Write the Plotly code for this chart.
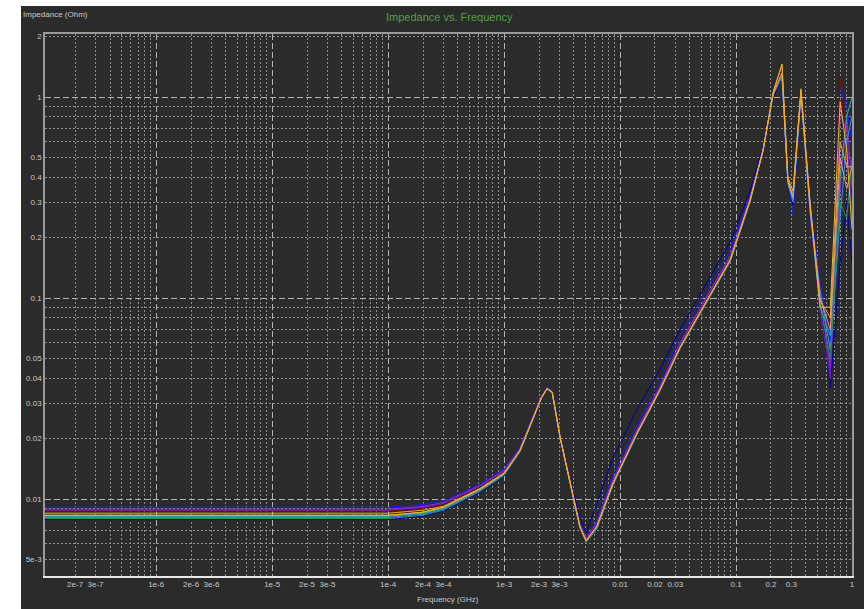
import math
import plotly.graph_objects as go

# ---------------- data ----------------
freq_ghz = [1.1e-7, 1e-5, 1e-4, 2e-4, 3e-4, 6.2e-4, 1e-3, 1.37e-3, 1.78e-3, 2.1e-3,
            2.35e-3, 2.6e-3, 3.04e-3, 3.7e-3, 4.5e-3, 5.1e-3, 6.3e-3, 8.7e-3, 0.014, 0.022,
            0.033, 0.089, 0.132, 0.171, 0.209, 0.249, 0.28, 0.31, 0.363, 0.435,
            0.53, 0.65, 0.79, 0.9, 1.0]

z_blue = [0.0091, 0.0091, 0.0091, 0.0094, 0.0098, 0.0119, 0.0141, 0.0181, 0.0262, 0.0326,
          0.0360, 0.0345, 0.0206, 0.0123, 0.0076, 0.0064, 0.0078, 0.0132, 0.0235, 0.0385,
          0.065, 0.172, 0.325, 0.56, 1.00, 1.30, 0.40, 0.26, 1.00, 0.30,
          0.12, 0.06, 1.15, 0.90, 0.60]
z_navy = [0.0079, 0.0079, 0.0079, 0.0082, 0.0087, 0.0108, 0.0130, 0.0171, 0.0252, 0.0317,
          0.0352, 0.0338, 0.0202, 0.0125, 0.0082, 0.0068, 0.0095, 0.0160, 0.0280, 0.0440,
          0.070, 0.190, 0.340, 0.57, 1.00, 1.25, 0.36, 0.29, 1.00, 0.25,
          0.10, 0.036, 0.15, 0.30, 0.15]
z_purple = [0.0089, 0.0089, 0.0089, 0.0092, 0.0096, 0.0117, 0.0139, 0.0179, 0.0260, 0.0324,
            0.0358, 0.0343, 0.0205, 0.0122, 0.0075, 0.0064, 0.0076, 0.0125, 0.0222, 0.0362,
            0.060, 0.162, 0.315, 0.55, 1.02, 1.28, 0.38, 0.33, 1.05, 0.28,
            0.10, 0.045, 0.35, 0.80, 0.35]
z_darkred = [0.0087, 0.0087, 0.0087, 0.0090, 0.0094, 0.0115, 0.0137, 0.0177, 0.0258, 0.0322,
             0.0356, 0.0341, 0.0204, 0.0121, 0.0074, 0.0063, 0.0074, 0.0122, 0.0216, 0.0353,
             0.058, 0.157, 0.310, 0.55, 1.03, 1.30, 0.39, 0.32, 1.06, 0.27,
             0.085, 0.07, 1.25, 0.50, 0.30]
z_violet = [0.0088, 0.0088, 0.0088, 0.0091, 0.0095, 0.0116, 0.0138, 0.0178, 0.0259, 0.0323,
            0.0357, 0.0342, 0.0204, 0.0121, 0.0074, 0.0063, 0.0075, 0.0123, 0.0218, 0.0356,
            0.059, 0.160, 0.312, 0.55, 1.02, 1.27, 0.37, 0.31, 1.03, 0.26,
            0.09, 0.04, 0.80, 0.70, 0.25]
z_lightblue = [0.0081, 0.0081, 0.0081, 0.0084, 0.0089, 0.0110, 0.0132, 0.0172, 0.0253, 0.0318,
               0.0353, 0.0338, 0.0202, 0.0119, 0.0072, 0.0061, 0.0071, 0.0118, 0.0210, 0.0345,
               0.056, 0.152, 0.302, 0.54, 1.03, 1.27, 0.37, 0.30, 1.02, 0.27,
               0.11, 0.055, 0.25, 0.60, 0.80]
z_green = [0.0080, 0.0080, 0.0080, 0.0083, 0.0088, 0.0109, 0.0131, 0.0171, 0.0252, 0.0317,
           0.0352, 0.0337, 0.0201, 0.0119, 0.0072, 0.0061, 0.0071, 0.0117, 0.0209, 0.0343,
           0.056, 0.151, 0.300, 0.54, 1.03, 1.26, 0.39, 0.32, 1.05, 0.27,
           0.095, 0.05, 0.30, 0.25, 0.50]
z_cyan = [0.0082, 0.0082, 0.0082, 0.0085, 0.0090, 0.0111, 0.0133, 0.0173, 0.0254, 0.0319,
          0.0354, 0.0339, 0.0202, 0.0120, 0.0073, 0.0062, 0.0072, 0.0119, 0.0211, 0.0346,
          0.057, 0.153, 0.304, 0.54, 1.04, 1.30, 0.38, 0.31, 1.04, 0.28,
          0.09, 0.065, 0.40, 0.80, 1.00]
z_salmon = [0.0083, 0.0083, 0.0083, 0.0086, 0.0091, 0.0112, 0.0134, 0.0174, 0.0255, 0.0319,
            0.0354, 0.0339, 0.0203, 0.0120, 0.0073, 0.0062, 0.0073, 0.0120, 0.0212, 0.0347,
            0.057, 0.154, 0.305, 0.545, 1.04, 1.32, 0.38, 0.32, 1.06, 0.29,
            0.10, 0.07, 0.50, 0.35, 0.45]
z_yellow = [0.0083, 0.0083, 0.0083, 0.0086, 0.0091, 0.0112, 0.0134, 0.0174, 0.0255, 0.0320,
            0.0355, 0.0340, 0.0203, 0.0120, 0.0073, 0.0062, 0.0073, 0.0120, 0.0213, 0.0349,
            0.057, 0.155, 0.307, 0.545, 1.06, 1.46, 0.40, 0.34, 1.10, 0.30,
            0.09, 0.09, 0.95, 0.55, 0.22]
z_orange = [0.0085, 0.0085, 0.0085, 0.0088, 0.0092, 0.0113, 0.0135, 0.0175, 0.0256, 0.0320,
            0.0355, 0.0340, 0.0203, 0.0120, 0.0073, 0.0062, 0.0073, 0.0120, 0.0213, 0.0349,
            0.057, 0.155, 0.307, 0.545, 1.05, 1.45, 0.386, 0.318, 1.08, 0.284,
            0.097, 0.08, 0.60, 0.45, 0.45]

series = [
    ("blue", "#1a1aff", z_blue),
    ("navy", "#0000a0", z_navy),
    ("purple", "#8a2be2", z_purple),
    ("darkred", "#8b0000", z_darkred),
    ("violet", "#7a1fd0", z_violet),
    ("lightblue", "#3a8fff", z_lightblue),
    ("green", "#2e8b57", z_green),
    ("cyan", "#20b0c8", z_cyan),
    ("salmon", "#e9967a", z_salmon),
    ("yellow", "#e0c020", z_yellow),
    ("orange", "#ffa020", z_orange),
]

x_tick_vals = [2e-7, 3e-7, 1e-6, 2e-6, 3e-6, 1e-5, 2e-5, 3e-5, 1e-4, 2e-4, 3e-4,
               1e-3, 2e-3, 3e-3, 0.01, 0.02, 0.03, 0.1, 0.2, 0.3, 1]
x_tick_text = ["2e-7", "3e-7", "1e-6", "2e-6", "3e-6", "1e-5", "2e-5", "3e-5", "1e-4",
               "2e-4", "3e-4", "1e-3", "2e-3", "3e-3", "0.01", "0.02", "0.03", "0.1",
               "0.2", "0.3", "1"]
y_tick_vals = [0.005, 0.01, 0.02, 0.03, 0.04, 0.05, 0.1, 0.2, 0.3, 0.4, 0.5, 1, 2]
y_tick_text = ["5e-3", "0.01", "0.02", "0.03", "0.04", "0.05", "0.1", "0.2", "0.3",
               "0.4", "0.5", "1", "2"]

x_decades = [1e-6, 1e-5, 1e-4, 1e-3, 1e-2, 1e-1, 1]
y_decades = [0.01, 0.1, 1]
x_minor = [m * 10.0 ** e for e in range(-7, 0) for m in range(2, 10)]
y_minor = [m * 10.0 ** e for e in range(-3, 1) for m in range(2, 10)]

x_range = [math.log10(1.1e-7), 0.0]
y_range = [math.log10(4.14e-3), math.log10(2.06)]

BG = "#2b2b2b"
TXT = "#c8c8c8"
FONT = "Liberation Sans"

fig = go.Figure()
for name, color, vals in series:
    fig.add_trace(go.Scatter(x=freq_ghz, y=vals, mode="lines", name=name,
                             line=dict(color=color, width=1)))
# empty trace so the overlay axes (decade grid) are created
fig.add_trace(go.Scatter(x=[], y=[], xaxis="x2", yaxis="y2", showlegend=False,
                         hoverinfo="skip"))

pw, ph = 807, 542
fig.add_shape(type="rect", xref="paper", yref="paper",
              x0=-24 / pw, x1=819 / pw, y0=-33 / ph, y1=570 / ph,
              fillcolor=BG, line=dict(width=0), layer="below")

fig.update_layout(
    width=864, height=609,
    margin=dict(l=45, r=12, t=34, b=33, autoexpand=False),
    paper_bgcolor="white", plot_bgcolor=BG,
    showlegend=False,
    font=dict(family=FONT, size=8, color=TXT),
    xaxis=dict(type="log", range=x_range, tickmode="array", tickvals=x_tick_vals,
               ticktext=x_tick_text, showgrid=False, ticks="", zeroline=False,
               showline=True, linecolor="#e8e8e8", linewidth=1.5, mirror=False,
               automargin=False,
               tickfont=dict(size=8, color=TXT, family=FONT),
               minor=dict(tickvals=x_minor, showgrid=True, gridcolor="#8c8c8c",
                          griddash="2px,2px", gridwidth=1, ticks="")),
    yaxis=dict(type="log", range=y_range, tickmode="array", tickvals=y_tick_vals,
               ticktext=y_tick_text, showgrid=False, ticks="", zeroline=False,
               showline=True, linecolor="#9a9a9a", linewidth=1.5, mirror=False,
               automargin=False,
               tickfont=dict(size=8, color=TXT, family=FONT),
               minor=dict(tickvals=y_minor, showgrid=True, gridcolor="#8c8c8c",
                          griddash="2px,2px", gridwidth=1, ticks="")),
    xaxis2=dict(type="log", range=x_range, overlaying="x", side="top", anchor="y",
                tickmode="array", tickvals=x_decades, showticklabels=False, ticks="",
                showgrid=True, gridcolor="#b4b4b4", griddash="6px,3px", gridwidth=1,
                showline=True, linecolor="#9a9a9a", linewidth=1.5, zeroline=False,
                automargin=False),
    yaxis2=dict(type="log", range=y_range, overlaying="y", side="right", anchor="x",
                tickmode="array", tickvals=y_decades, showticklabels=False, ticks="",
                showgrid=True, gridcolor="#b4b4b4", griddash="6px,3px", gridwidth=1,
                showline=True, linecolor="#9a9a9a", linewidth=1.5, zeroline=False,
                automargin=False),
    annotations=[
        dict(text="Impedance vs. Frequency", xref="paper", yref="paper",
             x=(449 - 45) / pw, y=(576 - 17) / ph, xanchor="center", yanchor="middle",
             showarrow=False, font=dict(size=11, color="#52a043", family=FONT)),
        dict(text="Impedance (Ohm)", xref="paper", yref="paper",
             x=(21 - 45) / pw, y=(576 - 15) / ph, xanchor="left", yanchor="middle",
             showarrow=False, font=dict(size=8, color=TXT, family=FONT)),
        dict(text="Frequency (GHz)", xref="paper", yref="paper",
             x=(448 - 45) / pw, y=(576 - 599) / ph, xanchor="center", yanchor="middle",
             showarrow=False, font=dict(size=8, color=TXT, family=FONT)),
    ],
)

fig.write_html("out.html", config={"displayModeBar": False},
               post_script="document.body.style.margin='0';document.body.style.padding='0';")
